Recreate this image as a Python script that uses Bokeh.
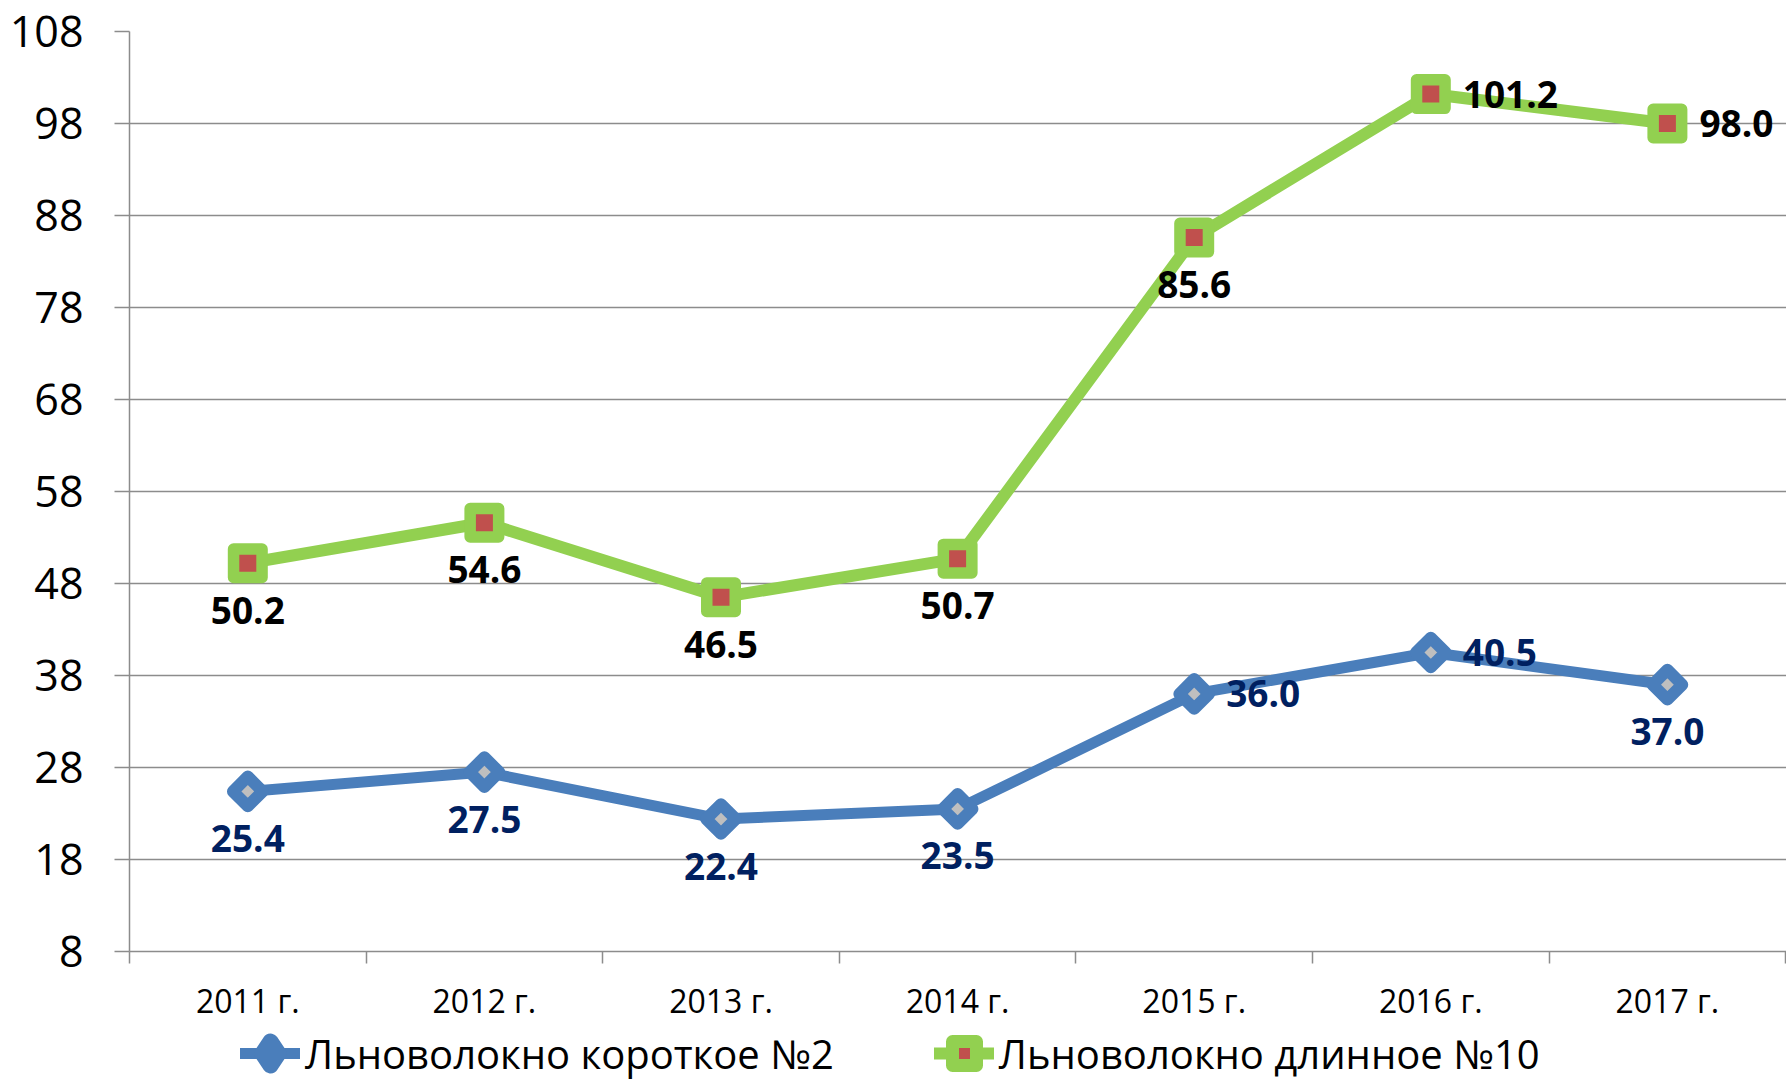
import math
from bokeh.plotting import figure
from bokeh.layouts import column
from bokeh.models import ColumnDataSource, Range1d, FixedTicker, Legend, LegendItem
from bokeh.core.properties import value
from bokeh.embed import file_html
from bokeh.resources import INLINE

# ---- data ----
years = ["2011 г.", "2012 г.", "2013 г.", "2014 г.", "2015 г.", "2016 г.", "2017 г."]
short_fiber = [25.4, 27.5, 22.4, 23.5, 36.0, 40.5, 37.0]
long_fiber = [50.2, 54.6, 46.5, 50.7, 85.6, 101.2, 98.0]
y_ticks = [8, 18, 28, 38, 48, 58, 68, 78, 88, 98, 108]
series_names = ["Льноволокно короткое №2", "Льноволокно длинное №10"]
short_label_pos = ["below", "below", "below", "below", "right", "right", "below"]
long_label_pos = ["below", "below", "below", "below", "below", "right", "right"]

# ---- style ----
FONT = "Open Sans"
BLUE = "#4A7EBB"
GREEN = "#92D050"
RED = "#C0504D"
GREY_IN = "#BFBFBF"
NAVY = "#002060"
GRID = "#8C8C8C"

W = 1786
H_MAIN, H_LEG = 1025, 58
LEFT, TOP = 129, 31
FRAME_BOTTOM = 951
PX_PER_CAT = 236.6

n = len(years)
xs = list(range(n))
x_end = -0.5 + (W - LEFT) / PX_PER_CAT

fig = figure(width=W, height=H_MAIN, output_backend="svg", toolbar_location=None,
             x_range=Range1d(-0.5, x_end), y_range=Range1d(y_ticks[0], y_ticks[-1]),
             min_border_left=LEFT, min_border_right=0, min_border_top=TOP,
             min_border_bottom=H_MAIN - FRAME_BOTTOM)
fig.outline_line_color = None
fig.background_fill_color = "white"
fig.border_fill_color = "white"

# grid
fig.xgrid.visible = False
fig.ygrid.ticker = FixedTicker(ticks=y_ticks)
fig.ygrid.grid_line_color = GRID
fig.ygrid.grid_line_width = 1.5

# y axis
fig.yaxis.ticker = FixedTicker(ticks=y_ticks)
fig.yaxis.axis_line_color = GRID
fig.yaxis.axis_line_width = 1.5
fig.yaxis.major_tick_line_color = GRID
fig.yaxis.major_tick_line_width = 1.5
fig.yaxis.major_tick_out = 15
fig.yaxis.major_tick_in = 0
fig.yaxis.minor_tick_line_color = None
fig.yaxis.major_label_standoff = 31
fig.yaxis.major_label_text_font = FONT
fig.yaxis.major_label_text_font_size = "43px"
fig.yaxis.major_label_text_color = "black"

# x axis: labels at category centres, tick marks between categories
fig.xaxis.ticker = FixedTicker(ticks=xs, minor_ticks=[i - 0.5 for i in range(n + 1)])
fig.xaxis.major_label_overrides = {i: years[i] for i in xs}
fig.xaxis.axis_line_color = GRID
fig.xaxis.axis_line_width = 1.5
fig.xaxis.major_tick_line_color = None
fig.xaxis.major_tick_out = 0
fig.xaxis.major_tick_in = 0
fig.xaxis.minor_tick_line_color = GRID
fig.xaxis.minor_tick_line_width = 1.5
fig.xaxis.minor_tick_out = 12
fig.xaxis.minor_tick_in = 0
fig.xaxis.major_label_standoff = 15
fig.xaxis.major_label_text_font = FONT
fig.xaxis.major_label_text_font_size = "32px"
fig.xaxis.major_label_text_color = "black"

src_s = ColumnDataSource(dict(x=xs, y=short_fiber))
src_l = ColumnDataSource(dict(x=xs, y=long_fiber))

# short fibre (blue)
fig.line("x", "y", source=src_s, line_color=BLUE, line_width=11,
         line_join="round", line_cap="round")
fig.scatter("x", "y", source=src_s, marker="square", angle=math.pi / 4, size=21,
            fill_color=GREY_IN, line_color=BLUE, line_width=12, line_join="round")

# long fibre (green)
fig.line("x", "y", source=src_l, line_color=GREEN, line_width=12,
         line_join="round", line_cap="round")
fig.scatter("x", "y", source=src_l, marker="square", size=28.5,
            fill_color=RED, line_color=GREEN, line_width=11.5, line_join="round")


def add_labels(vals, pos, color):
    for kind in ("below", "right"):
        idx = [i for i in range(n) if pos[i] == kind]
        if not idx:
            continue
        s = ColumnDataSource(dict(x=[xs[i] for i in idx], y=[vals[i] for i in idx],
                                  t=["%.1f" % vals[i] for i in idx]))
        if kind == "below":
            fig.text("x", "y", text="t", source=s, text_font=value(FONT),
                     text_font_size="37px", text_font_style="bold", text_color=color,
                     text_align="center", text_baseline="middle", y_offset=47)
        else:
            fig.text("x", "y", text="t", source=s, text_font=value(FONT),
                     text_font_size="37px", text_font_style="bold", text_color=color,
                     text_align="left", text_baseline="middle", x_offset=32)


add_labels(short_fiber, short_label_pos, NAVY)
add_labels(long_fiber, long_label_pos, "black")

# ---- legend strip below the chart ----
leg = figure(width=W, height=H_LEG, output_backend="svg", toolbar_location=None,
             x_range=Range1d(0, 1), y_range=Range1d(0, 1),
             min_border_left=0, min_border_right=0, min_border_top=0, min_border_bottom=0)
leg.axis.visible = False
leg.grid.visible = False
leg.outline_line_color = None
leg.border_fill_color = "white"

NAN = float("nan")
lb_line = leg.line(x=[NAN], y=[NAN], line_color=BLUE, line_width=11, line_cap="round")
lb_mark = leg.scatter(x=[NAN], y=[NAN], marker="diamond", fill_color=GREY_IN,
                      line_color=BLUE, line_width=16, line_join="round")
lg_line = leg.line(x=[NAN], y=[NAN], line_color=GREEN, line_width=12, line_cap="round")
lg_mark = leg.scatter(x=[NAN], y=[NAN], marker="square", fill_color=RED,
                      line_color=GREEN, line_width=13, line_join="round")

legend = Legend(items=[LegendItem(label=series_names[0], renderers=[lb_line, lb_mark]),
                       LegendItem(label=series_names[1], renderers=[lg_line, lg_mark])],
                location=(240 - LEFT, 0), orientation="horizontal",
                glyph_width=60, glyph_height=60, label_standoff=5, spacing=100,
                padding=0, margin=0, border_line_color=None, background_fill_alpha=0,
                label_text_font=FONT, label_text_font_size="40px",
                label_text_color="black")
leg.add_layout(legend)

p = column(fig, leg, spacing=0)

open("out.html", "w").write(file_html(p, INLINE))
